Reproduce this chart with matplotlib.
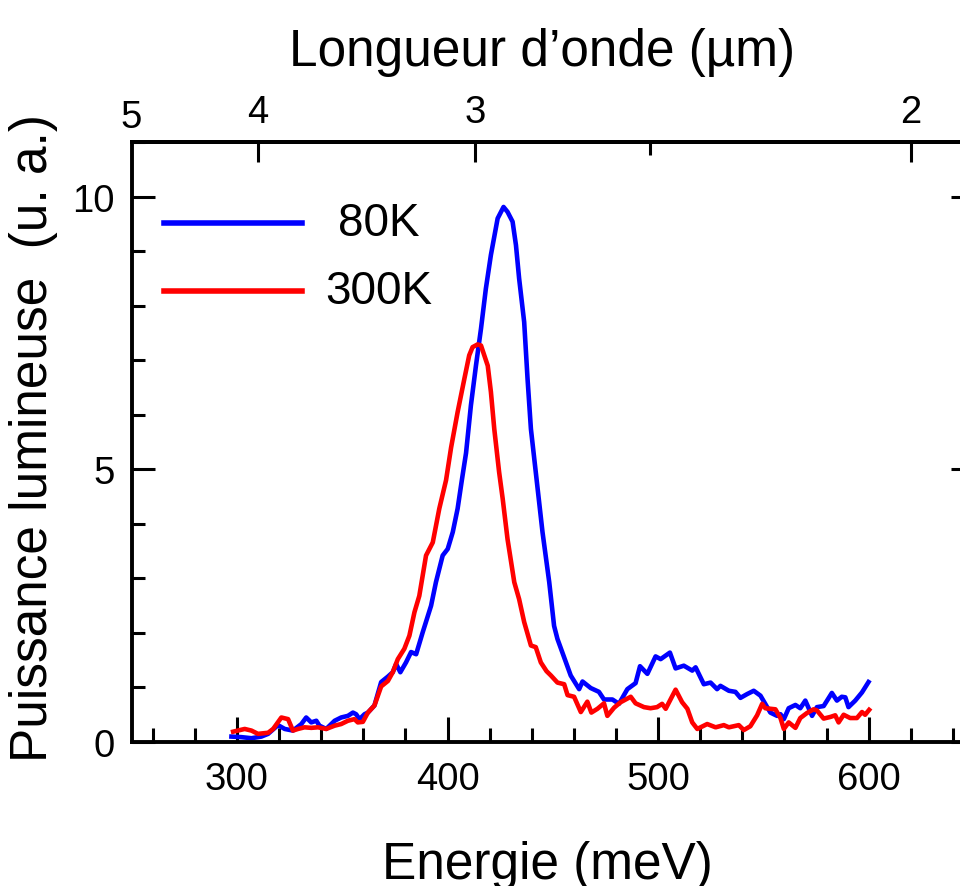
import numpy as np
import matplotlib
matplotlib.use("Agg")
import matplotlib.pyplot as plt
import matplotlib.transforms as mtransforms

plt.rcParams['font.family'] = ['Liberation Sans', 'DejaVu Sans']

# spectra (energy in meV, power in arbitrary units)
energy_80K = [297.4, 302.1, 306.9, 311.6, 314.8, 319.5, 322.7, 326.6, 330.6, 332.9,
              335.3, 337.7, 339.2, 342.4, 346.4, 349.5, 352.7, 355.1, 356.6, 358.2,
              360.6, 362.2, 365.3, 368.5, 371.7, 374.0, 375.6, 377.6, 380.3, 382.7,
              385.1, 388.2, 392.2, 394.5, 397.7, 400.1, 402.5, 404.8, 406.8, 408.8,
              411.1, 413.5, 415.9, 418.2, 420.6, 423.8, 426.6, 428.5, 430.9, 432.5,
              434.0, 436.4, 438.0, 439.6, 441.9, 443.5, 445.1, 448.3, 450.6, 452.2,
              455.4, 458.5, 462.5, 464.1, 468.0, 471.9, 474.3, 478.3, 481.4, 485.4,
              489.3, 491.4, 494.9, 498.8, 501.2, 505.6, 508.3, 512.2, 516.2, 517.8,
              521.7, 524.9, 528.0, 529.6, 533.6, 536.7, 539.1, 542.3, 545.4, 548.6,
              553.3, 556.5, 558.1, 559.7, 562.0, 565.2, 567.5, 569.9, 573.1, 575.4,
              578.6, 582.5, 584.9, 587.2, 588.9, 590.4, 593.6, 596.8, 599.9]
power_80K = [0.10, 0.09, 0.07, 0.10, 0.15, 0.31, 0.24, 0.21, 0.33, 0.45,
             0.36, 0.39, 0.30, 0.24, 0.39, 0.45, 0.48, 0.54, 0.51, 0.42,
             0.51, 0.54, 0.67, 1.10, 1.20, 1.28, 1.43, 1.28, 1.46, 1.65,
             1.61, 2.01, 2.50, 2.93, 3.42, 3.54, 3.85, 4.28, 4.80, 5.30,
             6.17, 6.90, 7.58, 8.31, 8.93, 9.60, 9.81, 9.72, 9.54, 9.11,
             8.50, 7.70, 6.66, 5.74, 4.95, 4.40, 3.85, 2.93, 2.13, 1.89,
             1.55, 1.22, 0.97, 1.11, 0.99, 0.92, 0.78, 0.78, 0.70, 0.97,
             1.08, 1.39, 1.25, 1.57, 1.52, 1.64, 1.35, 1.40, 1.31, 1.37,
             1.06, 1.09, 0.97, 1.03, 0.94, 0.92, 0.81, 0.88, 0.94, 0.85,
             0.54, 0.48, 0.51, 0.42, 0.62, 0.68, 0.62, 0.76, 0.48, 0.64,
             0.66, 0.90, 0.76, 0.83, 0.82, 0.64, 0.76, 0.91, 1.10]

energy_300K = [298.2, 303.7, 306.9, 310.0, 314.8, 317.2, 321.1, 324.3, 326.6, 329.0,
               332.1, 335.3, 338.5, 342.4, 346.4, 349.5, 352.7, 355.8, 357.4, 359.8,
               362.2, 365.3, 368.5, 371.7, 374.0, 376.4, 379.5, 381.9, 384.3, 386.6,
               389.8, 393.0, 396.1, 399.3, 401.7, 404.8, 408.0, 410.3, 411.9, 414.3,
               415.9, 419.1, 420.6, 422.2, 424.5, 426.2, 428.5, 431.7, 434.0, 436.4,
               439.6, 441.9, 444.3, 447.0, 449.1, 452.2, 455.4, 457.0, 460.1, 463.3,
               466.4, 468.3, 471.2, 474.3, 475.9, 479.1, 482.2, 487.0, 489.3, 493.3,
               496.4, 499.5, 501.9, 503.6, 508.3, 511.4, 513.9, 516.2, 518.6, 523.3,
               527.3, 531.2, 533.6, 538.3, 540.7, 543.8, 547.0, 549.4, 550.9, 555.7,
               558.1, 559.7, 562.0, 565.2, 567.5, 570.6, 573.8, 575.4, 578.6, 581.8,
               584.1, 585.7, 588.1, 591.2, 594.4, 596.8, 598.3, 600.2]
power_300K = [0.19, 0.24, 0.21, 0.15, 0.17, 0.24, 0.45, 0.42, 0.21, 0.24,
              0.27, 0.26, 0.27, 0.24, 0.30, 0.33, 0.39, 0.42, 0.36, 0.37,
              0.54, 0.67, 1.02, 1.12, 1.28, 1.52, 1.71, 1.95, 2.38, 2.68,
              3.42, 3.66, 4.28, 4.80, 5.40, 6.05, 6.66, 7.09, 7.24, 7.29,
              7.27, 6.90, 6.42, 5.74, 4.95, 4.46, 3.72, 2.93, 2.62, 2.20,
              1.77, 1.74, 1.46, 1.30, 1.22, 1.09, 1.06, 0.86, 0.83, 0.55,
              0.74, 0.54, 0.61, 0.71, 0.48, 0.63, 0.73, 0.83, 0.71, 0.64,
              0.62, 0.64, 0.70, 0.61, 0.96, 0.73, 0.61, 0.36, 0.24, 0.33,
              0.27, 0.31, 0.27, 0.31, 0.22, 0.29, 0.49, 0.70, 0.62, 0.60,
              0.44, 0.24, 0.36, 0.26, 0.44, 0.53, 0.60, 0.58, 0.43, 0.46,
              0.49, 0.36, 0.50, 0.44, 0.44, 0.55, 0.50, 0.59]

energy_ticks = [300, 400, 500, 600]
power_ticks = [0, 5, 10]
wavelength_ticks = [4, 3, 2]
labels = ["80K", "300K"]


def e2l(e):
    # meV <-> micrometre, same formula both ways
    e = np.asarray(e, dtype=float)
    with np.errstate(divide='ignore', invalid='ignore'):
        return 1239.84 / e


fig = plt.figure(figsize=(9.6, 8.87), dpi=100)
ax = fig.add_axes([0.1371, 0.1623, 0.8775, 0.6764])

ax.plot(energy_80K, power_80K, color='blue', lw=3.3, solid_joinstyle='round')
ax.plot(energy_300K, power_300K, color='red', lw=3.3, solid_joinstyle='round')

ax.set_xlim(250, 650)
ax.set_ylim(0, 11)
ax.set_xticks(energy_ticks)
ax.set_xticks(np.arange(260, 660, 20), minor=True)
ax.set_yticks(power_ticks)
ax.set_yticks(np.arange(0, 12, 1), minor=True)

for sp in ax.spines.values():
    sp.set_linewidth(2.8)

ax.tick_params(axis='x', which='both', direction='in', top=False, bottom=True,
               width=2.2, labelsize=27.5, pad=14)
ax.tick_params(axis='x', which='major', length=18)
ax.tick_params(axis='x', which='minor', length=10)
ax.tick_params(axis='y', which='both', direction='in', left=True, right=True,
               width=2.2, labelsize=27.5, pad=12)
ax.tick_params(axis='y', which='major', length=16.5)
ax.tick_params(axis='y', which='minor', length=9.4)

ax.set_xlabel("Energie (meV)", fontsize=37)
ax.xaxis.set_label_coords(0.493, -0.163)
ax.set_ylabel("Puissance lumineuse  (u. a.)", fontsize=37)
ax.yaxis.set_label_coords(-0.087, 0.508)

secax = ax.secondary_xaxis('top', functions=(e2l, e2l))
secax.set_xticks(wavelength_ticks)
secax.set_xticks([2.5], minor=True)
secax.spines['top'].set_linewidth(2.8)
secax.tick_params(which='both', direction='in', width=2.2, labelsize=27.5, pad=9)
secax.tick_params(which='major', length=14.4)
secax.tick_params(which='minor', length=9)
secax.set_xlabel("Longueur d\u2019onde (\u00b5m)", fontsize=37)
secax.xaxis.set_label_coords(0.487, 1.128, transform=ax.transAxes)

# the 5 um label sits on the left edge of the axis
trans = mtransforms.blended_transform_factory(ax.transData, ax.transAxes)
ax.text(250, 1.025, "5", transform=trans, ha='center', va='baseline', fontsize=27.5)

# hand-drawn legend
legend_y = [0.865, 0.752]
for lab, col, ly in zip(labels, ['blue', 'red'], legend_y):
    ax.plot([0.0385, 0.2023], [ly, ly], transform=ax.transAxes, color=col, lw=4, clip_on=False)
    ax.text(0.293, ly, lab, transform=ax.transAxes, ha='center', va='center', fontsize=33)

fig.savefig("out.png", dpi=100)
